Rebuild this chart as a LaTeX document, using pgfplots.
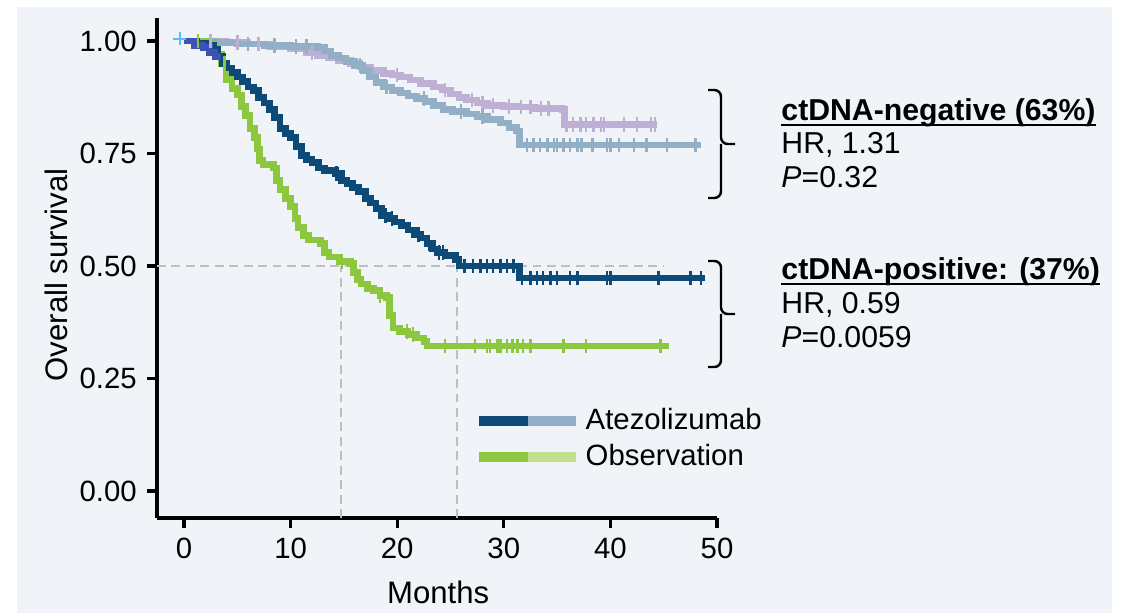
\documentclass[border=0pt]{standalone}
\usepackage{fontspec}
\setmainfont{Liberation Sans}
\usepackage{pgfplots}
\pgfplotsset{compat=1.18}

\definecolor{bg}{HTML}{F0F3F7}
\definecolor{dkblue}{HTML}{0D4A78}
\definecolor{steel}{HTML}{93AFC5}
\definecolor{lav}{HTML}{BDB0D4}
\definecolor{grn}{HTML}{8DC63F}
\definecolor{lgrn}{HTML}{C0E08B}
\definecolor{royal}{HTML}{3F51B5}
\definecolor{cyanm}{HTML}{4FC3F7}
\definecolor{dashc}{HTML}{BFBFBF}

\begin{document}
\fontsize{13.2pt}{15.5pt}\selectfont
\begin{tikzpicture}
\useasboundingbox (0,0) rectangle (510.3pt,275.85pt);
\fill[bg] (7.65pt,0pt) rectangle (500.4pt,272.7pt);
\begin{axis}[
  at={(70.65pt,42.75pt)}, anchor=south west,
  scale only axis, width=252pt, height=225pt,
  xmin=-2.53, xmax=50, ymin=-0.06, ymax=1.051,
  axis x line=bottom, axis y line=left,
  axis line style={line width=1.4pt, -},
  xtick={0,10,20,30,40,50}, ytick={0,0.25,0.5,0.75,1},
  /pgf/number format/assume math mode=true,
  yticklabel style={/pgf/number format/fixed, /pgf/number format/fixed zerofill, /pgf/number format/precision=2},
  tick style={line width=1.4pt, black},
  major tick length=4.5pt,
  tick align=outside,
  ticklabel style={font=\fontsize{13.2pt}{15pt}\selectfont},
  xlabel={Months}, ylabel={Overall survival},
  label style={font=\fontsize{14pt}{16pt}\selectfont},
  xlabel style={at={(axis description cs:0.502,-0.17)}, anchor=base},
  ylabel style={at={(axis description cs:-0.18,0.486)}, anchor=center},
  legend style={draw=none, fill=none, at={(axis cs:27.2,0.116)}, anchor=west,
    font=\fontsize{13.2pt}{15pt}\selectfont, row sep=0.5pt, inner sep=0pt},
  legend cell align=left,
  every axis plot/.append style={line join=miter},
]
% reference lines
\addplot[forget plot, dashc, line width=0.9pt, dash pattern=on 4pt off 2.5pt] coordinates {(-2.53,0.5) (45,0.5)};
\addplot[forget plot, dashc, line width=0.9pt, dash pattern=on 4pt off 2.5pt] coordinates {(14.7,-0.06) (14.7,0.5)};
\addplot[forget plot, dashc, line width=0.9pt, dash pattern=on 4pt off 2.5pt] coordinates {(25.6,-0.06) (25.6,0.5)};

% Observation, ctDNA-negative
\addplot[forget plot, const plot, lav, line width=3pt] coordinates {
(0,1.0) (4.0,0.997) (6.0,0.993) (8.0,0.988) (10.0,0.983) (11.5,0.975) (12.5,0.968) (13.5,0.962)
(14.5,0.956) (15.6,0.950) (16.5,0.942) (17.5,0.935) (18.7,0.928) (19.5,0.924) (20.3,0.920)
(21.2,0.913) (22.2,0.906) (23.4,0.898) (24.2,0.891) (25.0,0.882) (25.8,0.875) (26.5,0.869)
(27.5,0.862) (28.5,0.857) (30.0,0.855) (31.2,0.853) (33.0,0.850) (35.5,0.847) (35.7,0.815) (44.4,0.815)};
\addplot[forget plot, only marks, lav, mark=|, mark size=3.3pt, mark options={line width=1.1pt}] coordinates {
(2.5,1.0) (5.0,0.997) (7.0,0.993) (12.0,0.975) (20.0,0.924) (24.5,0.891) (27.0,0.869) (28.0,0.862)
(29.0,0.857) (30.5,0.855) (31.6,0.853) (32.5,0.853) (33.5,0.850) (34.2,0.850)
(35.9,0.815) (36.5,0.815) (37.2,0.815) (37.7,0.815) (38.4,0.815) (39.1,0.815) (39.4,0.815)
(41.3,0.815) (42.5,0.815) (43.8,0.815) (44.2,0.815)};

% Atezolizumab, ctDNA-negative
\addplot[forget plot, const plot, steel, line width=3pt] coordinates {
(0,1.0) (3.0,0.997) (5.0,0.993) (7.5,0.990) (10.0,0.988) (12.5,0.985) (13.2,0.978) (13.8,0.968)
(14.5,0.962) (15.2,0.955) (16.0,0.945) (16.8,0.935) (17.4,0.920) (18.0,0.908) (18.7,0.898)
(19.5,0.890) (20.3,0.884) (21.0,0.878) (21.8,0.872) (22.6,0.866) (23.4,0.856) (24.3,0.848)
(25.2,0.843) (26.5,0.838) (27.5,0.832) (28.5,0.826) (29.7,0.818) (30.5,0.808) (31.2,0.800)
(31.5,0.769) (48.5,0.769)};
\addplot[forget plot, only marks, steel, mark=|, mark size=3.3pt, mark options={line width=1.1pt}] coordinates {
(6.0,0.993) (8.5,0.990) (10.5,0.988) (11.5,0.988) (16.5,0.945) (19.0,0.898) (22.5,0.872) (26.0,0.843) (28.0,0.832)
(32.2,0.769) (32.8,0.769) (33.4,0.769) (34.1,0.769) (34.7,0.769) (35.0,0.769) (35.6,0.769) (36.2,0.769)
(36.9,0.769) (37.3,0.769) (38.3,0.769) (39.7,0.769) (40.0,0.769) (40.8,0.769) (42.2,0.769) (43.4,0.769)
(45.3,0.769) (48.0,0.769)};

% Observation, ctDNA-positive
\addplot[forget plot, const plot, grn, line width=3pt] coordinates {
(0,1.0) (2.0,0.995) (2.7,0.985) (3.1,0.970) (3.5,0.950) (4.0,0.915) (4.5,0.895) (5.0,0.880)
(5.4,0.855) (5.8,0.835) (6.2,0.805) (6.6,0.785) (6.9,0.760) (7.1,0.735) (7.4,0.725) (8.4,0.718)
(8.7,0.690) (9.0,0.670) (9.5,0.650) (10.0,0.632) (10.4,0.605) (10.7,0.585) (11.2,0.568) (11.7,0.558)
(12.8,0.550) (13.2,0.530) (13.6,0.520) (14.6,0.510) (15.6,0.505) (15.9,0.485) (16.3,0.470)
(16.6,0.460) (17.2,0.450) (17.8,0.445) (18.4,0.435) (19.0,0.430) (19.3,0.390) (19.6,0.362)
(20.2,0.355) (21.0,0.348) (21.8,0.340) (22.5,0.332) (22.8,0.322) (45.5,0.322)};
\addplot[forget plot, only marks, grn, mark=|, mark size=3.3pt, mark options={line width=1.1pt}] coordinates {
(1.3,1.0) (3.8,0.950) (14.8,0.510) (18.4,0.435) (20.9,0.355) (21.5,0.348)
(24.5,0.322) (27.3,0.322) (28.4,0.322) (28.7,0.322) (29.4,0.322) (29.7,0.322) (30.3,0.322)
(30.8,0.322) (31.3,0.322) (31.8,0.322) (32.5,0.322) (35.6,0.322) (37.7,0.322) (44.7,0.322)};

% Atezolizumab, ctDNA-positive
\addplot[forget plot, const plot, dkblue, line width=3pt] coordinates {
(0,1.0) (1.2,0.995) (2.0,0.990) (2.8,0.982) (3.2,0.965) (3.6,0.950) (4.0,0.940) (4.5,0.930)
(5.0,0.920) (5.5,0.910) (6.0,0.898) (6.5,0.890) (7.0,0.875) (7.5,0.862) (8.0,0.848) (8.5,0.830)
(9.0,0.805) (9.5,0.795) (10.0,0.785) (10.5,0.765) (11.0,0.745) (11.5,0.737) (12.0,0.730)
(12.6,0.718) (13.2,0.712) (14.2,0.706) (14.8,0.690) (15.3,0.683) (15.8,0.675) (16.4,0.665)
(17.0,0.650) (17.5,0.640) (18.0,0.628) (18.5,0.612) (19.2,0.605) (19.8,0.598) (20.4,0.590)
(21.0,0.580) (21.6,0.570) (22.2,0.562) (22.8,0.550) (23.3,0.538) (23.8,0.530) (24.5,0.523)
(25.5,0.515) (25.8,0.500) (31.3,0.500) (31.5,0.473) (48.9,0.473)};
\addplot[forget plot, only marks, dkblue, mark=|, mark size=3.3pt, mark options={line width=1.1pt}] coordinates {
(14.3,0.706) (18.9,0.612) (19.5,0.605) (22.0,0.570) (23.0,0.550) (23.9,0.530) (24.3,0.530)
(26.3,0.5) (27.1,0.5) (27.8,0.5) (28.4,0.5) (29.0,0.5) (29.7,0.5) (30.3,0.5) (30.9,0.5)
(31.7,0.473) (32.5,0.473) (33.1,0.473) (33.7,0.473) (34.4,0.473) (35.0,0.473) (36.2,0.473)
(36.9,0.473) (39.7,0.473) (40.0,0.473) (44.5,0.473) (47.5,0.473) (48.5,0.473)};

% early overlay
\addplot[forget plot, const plot, royal, line width=3pt] coordinates {
(0,1.0) (1.0,0.99) (1.8,0.985) (2.4,0.975) (2.9,0.965) (3.2,0.958)};
\addplot[forget plot, only marks, cyanm, mark=+, mark size=3pt, mark options={line width=0.8pt}] coordinates {(-0.4,1.005)};

% legend
\addlegendimage{legend image code/.code={
  \draw[dkblue, line width=4.5pt] (0pt,0pt) -- (21.8pt,0pt);
  \draw[steel, line width=4.5pt] (21.8pt,0pt) -- (43.6pt,0pt);}}
\addlegendentry{Atezolizumab}
\addlegendimage{legend image code/.code={
  \draw[grn, line width=4.5pt] (0pt,0pt) -- (21.8pt,0pt);
  \draw[lgrn, line width=4.5pt] (21.8pt,0pt) -- (43.6pt,0pt);}}
\addlegendentry{Observation}
\end{axis}

\begin{scope}[yshift=275.85pt, x=0.45pt, y=-0.45pt]
\begin{scope}[font=\fontsize{13.6pt}{16pt}\selectfont]
\node[anchor=base west, inner sep=0pt, font=\fontsize{13.6pt}{16pt}\selectfont\bfseries] (n1) at (781,120.5) {ctDNA-negative (63\%)};
\draw[line width=0.9pt] ([yshift=-2.2pt]n1.base west) -- ([yshift=-2.2pt]n1.base east);
\node[anchor=base west, inner sep=0pt] at (781,154) {HR, 1.31};
\node[anchor=base west, inner sep=0pt] at (781,187.3) {\textit{P}=0.32};
\node[anchor=base west, inner sep=0pt, font=\fontsize{13.6pt}{16pt}\selectfont\bfseries] (n2) at (781,279.3) {ctDNA-positive: (37\%)};
\draw[line width=0.9pt] ([yshift=-2.2pt]n2.base west) -- ([yshift=-2.2pt]n2.base east);
\node[anchor=base west, inner sep=0pt] at (781,313.3) {HR, 0.59};
\node[anchor=base west, inner sep=0pt] at (781,347.5) {\textit{P}=0.0059};
\end{scope}
\draw[line width=1.1pt, rounded corners=3pt] (708,90) -- (721,90) -- (721,144) -- (735,144);
\draw[line width=1.1pt, rounded corners=3pt] (708,198) -- (721,198) -- (721,144);
\draw[line width=1.1pt, rounded corners=3pt] (708,261) -- (721,261) -- (721,314) -- (735,314);
\draw[line width=1.1pt, rounded corners=3pt] (708,367) -- (721,367) -- (721,314);
\end{scope}
\end{tikzpicture}
\end{document}
